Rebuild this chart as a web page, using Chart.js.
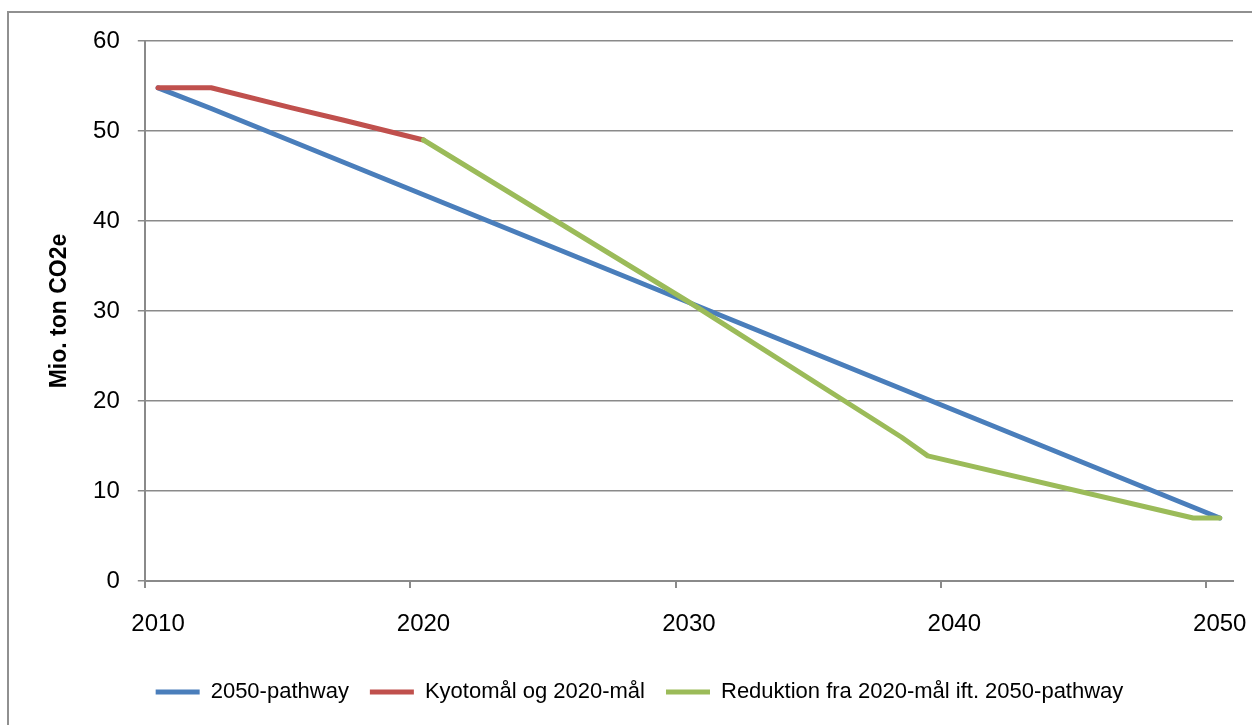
<!DOCTYPE html>
<html>
<head>
<meta charset="utf-8">
<script src="https://cdn.jsdelivr.net/npm/chart.js@4"></script>
<style>
  html, body { margin: 0; padding: 0; background: #ffffff; }
  #frame {
    position: absolute; left: 7px; top: 11px; width: 1300px; height: 800px;
    border-left: 2px solid #909090; border-top: 2px solid #909090;
  }
  #chart { position: absolute; left: 0; top: 0; }
</style>
</head>
<body>
<div id="frame"></div>
<canvas id="chart" width="1252" height="725"></canvas>
<script>
// Category axis: one slot per year
const years = [
  '2010','2011','2012','2013','2014','2015','2016','2017','2018','2019',
  '2020','2021','2022','2023','2024','2025','2026','2027','2028','2029',
  '2030','2031','2032','2033','2034','2035','2036','2037','2038','2039',
  '2040','2041','2042','2043','2044','2045','2046','2047','2048','2049',
  '2050'
];

// Series: years where each path changes direction, and its value there (Mio. ton CO2e)
const pathwayYears  = ['2010', '2012', '2050'];
const pathwayValues = [54.8, 52.5, 7.0];

const kyotoYears  = ['2010', '2012', '2015', '2017', '2020'];
const kyotoValues = [54.8, 54.8, 52.6, 51.2, 49.0];

const reductionYears  = ['2020', '2030', '2038', '2039', '2049', '2050'];
const reductionValues = [49.0, 31.0, 16.0, 13.9, 7.0, 7.0];

const seriesNames = [
  '2050-pathway',
  'Kyotomål og 2020-mål',
  'Reduktion fra 2020-mål ift. 2050-pathway'
];

const yMin = 0, yMax = 60, yStep = 10;
const labelEvery = 10;

const toPoints = (xs, ys) => xs.map((x, i) => ({ x: x, y: ys[i] }));

const FONT = 'Liberation Sans, Arial, sans-serif';
const GRID = '#8a8a8a';

const lineStyle = (color, order) => ({
  borderColor: color,
  backgroundColor: color,
  borderWidth: 5,
  borderCapStyle: 'round',
  borderJoinStyle: 'round',
  pointRadius: 0,
  pointHoverRadius: 0,
  tension: 0,
  fill: false,
  order: order
});

new Chart(document.getElementById('chart'), {
  type: 'line',
  data: {
    labels: years,
    datasets: [
      Object.assign({ label: seriesNames[0], data: toPoints(pathwayYears, pathwayValues) }, lineStyle('#4a7ebb', 3)),
      Object.assign({ label: seriesNames[1], data: toPoints(kyotoYears, kyotoValues) }, lineStyle('#c0504d', 2)),
      Object.assign({ label: seriesNames[2], data: toPoints(reductionYears, reductionValues) }, lineStyle('#9bbb59', 1))
    ]
  },
  options: {
    responsive: false,
    devicePixelRatio: 1,
    animation: false,
    events: [],
    layout: { padding: { left: 46, top: 41, right: 19, bottom: 12 } },
    plugins: {
      tooltip: { enabled: false },
      legend: {
        position: 'bottom',
        align: 'center',
        labels: {
          usePointStyle: true,
          pointStyle: 'line',
          pointStyleWidth: 44,
          boxHeight: 5,
          padding: 21,
          color: '#000000',
          font: { family: FONT, size: 22 },
          sort: (a, b) => a.datasetIndex - b.datasetIndex
        }
      }
    },
    scales: {
      x: {
        type: 'category',
        offset: true,
        border: { display: true, color: GRID, width: 2 },
        grid: {
          offset: true,
          drawOnChartArea: false,
          drawTicks: true,
          tickLength: 7,
          lineWidth: 2,
          color: (ctx) => (ctx.index !== undefined && ctx.index % labelEvery === 0) ? GRID : 'rgba(0,0,0,0)'
        },
        ticks: {
          autoSkip: false,
          maxRotation: 0,
          minRotation: 0,
          padding: 21.6,
          color: '#000000',
          font: { family: FONT, size: 24 },
          callback: function (value) {
            const label = this.getLabelForValue(value);
            return Number(label) % labelEvery === 0 ? label : '';
          }
        },
        // end labels sit inside the plot width, so no extra side room is needed
        afterFit: (scale) => { scale.paddingLeft = 0; scale.paddingRight = 0; }
      },
      y: {
        min: yMin,
        max: yMax,
        border: { display: true, color: GRID, width: 2 },
        grid: {
          color: GRID,
          lineWidth: 1.5,
          drawTicks: true,
          tickLength: 7
        },
        ticks: {
          stepSize: yStep,
          padding: 18,
          color: '#000000',
          font: { family: FONT, size: 24 }
        },
        title: {
          display: true,
          text: 'Mio. ton CO2e',
          color: '#000000',
          font: { family: FONT, size: 23, weight: 'bold' },
          padding: { top: 0, bottom: 1.5 }
        }
      }
    }
  }
});
</script>
</body>
</html>
